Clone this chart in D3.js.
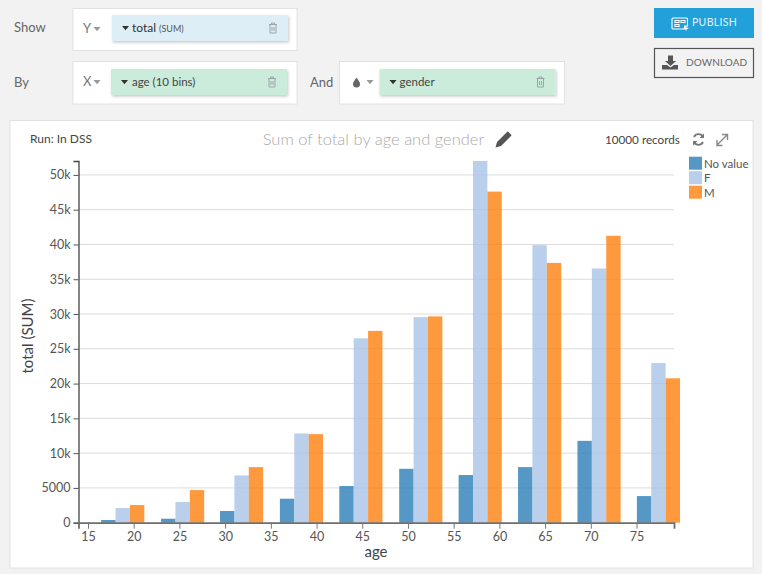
<!DOCTYPE html>
<html>
<head>
<meta charset="utf-8">
<script src="https://cdn.jsdelivr.net/npm/d3@7"></script>
<style>
  html, body { margin: 0; padding: 0; background: #f2f2f2; }
  svg { display: block; font-family: "Lato", sans-serif; }
  .axis text { font-size: 12.5px; fill: #555; font-family: "Lato", sans-serif; }
</style>
</head>
<body>
<div id="chart"></div>
<script>
// values
const binCenters = [18.8, 25.35, 31.8, 38.35, 44.85, 51.4, 57.9, 64.4, 70.9, 77.4];
const genders = ['No value', 'F', 'M'];
const noValue = [390, 570, 1680, 3450, 5270, 7750, 6850, 7990, 11770, 3830];
const female = [2110, 2970, 6800, 12830, 26500, 29550, 52000, 39900, 36550, 22950];
const male = [2540, 4690, 7990, 12730, 27580, 29660, 47600, 37350, 41250, 20760];
const xTicks = [15, 20, 25, 30, 35, 40, 45, 50, 55, 60, 65, 70, 75];
const yTicks = [0, 5000, 10000, 15000, 20000, 25000, 30000, 35000, 40000, 45000, 50000];
const colors = ['#2a7db7', '#a9c3e6', '#ff7f0e'];
const series = [noValue, female, male];

const w = 762, h = 574;
const svg = d3.select('#chart').append('svg').attr('width', w).attr('height', h);

// soft shadow under the field chips
const shadow = svg.append('defs').append('filter').attr('id', 'chipShadow')
  .attr('x', '-5%').attr('y', '-20%').attr('width', '110%').attr('height', '150%');
shadow.append('feDropShadow').attr('dx', 1).attr('dy', 1.5).attr('stdDeviation', 1.5)
  .attr('flood-color', '#000').attr('flood-opacity', 0.22);

// ---- controls above the chart ----
function box(x, y, bw, bh) {
  svg.append('rect').attr('x', x).attr('y', y).attr('width', bw).attr('height', bh)
    .attr('fill', '#fff').attr('stroke', '#e2e2e2').attr('stroke-width', 1);
}
function label(x, y, txt, size, fill, anchor) {
  return svg.append('text').attr('x', x).attr('y', y).attr('font-size', size)
    .attr('fill', fill).attr('text-anchor', anchor || 'start').text(txt);
}
function caret(x, y, size, fill) {
  svg.append('path').attr('d', `M${x},${y}h${size}l${-size / 2},${size * 0.6}z`).attr('fill', fill);
}
function trash(x, y) {
  svg.append('path')
    .attr('d', `M${x + 1},${y + 2}h8M${x + 3.5},${y + 2}v-1.5h3v1.5M${x + 2},${y + 2}v8.5h6v-8.5M${x + 4},${y + 4.5}v4M${x + 6},${y + 4.5}v4`)
    .attr('fill', 'none').attr('stroke', '#9aa5a8').attr('stroke-width', 1);
}
function chip(x, y, cw, fill) {
  svg.append('rect').attr('x', x).attr('y', y).attr('width', cw).attr('height', 26)
    .attr('fill', fill).attr('filter', 'url(#chipShadow)');
  caret(x + 10, y + 11, 7, '#333');
  trash(x + cw - 20, y + 7.5);
}

label(14, 32, 'Show', 13, '#666');
label(14, 87, 'By', 13, '#666');
label(310, 87, 'And', 13, '#666');

box(73, 8.5, 224, 42);
label(83, 33, 'Y', 13, '#777');
caret(93.5, 27, 7, '#999');
chip(112, 15, 176, '#deeef6');
const totalText = label(132, 32, 'total', 12, '#333');
totalText.append('tspan').attr('dx', 3).attr('font-size', 9).attr('fill', '#555').text('(SUM)');

box(73, 61.5, 224, 42.5);
label(83, 86, 'X', 13, '#777');
caret(93.5, 80, 7, '#999');
chip(111, 69, 176, '#cbebdb');
label(132, 86, 'age (10 bins)', 11.5, '#444');

box(339.5, 61.5, 225, 42.5);
svg.append('path').attr('d', 'M356.5,77.5c-2,3 -3.5,4.5 -3.5,6.5a3.5,3.5 0 0 0 7,0c0,-2 -1.5,-3.5 -3.5,-6.5z').attr('fill', '#666');
caret(366.5, 80, 7, '#999');
chip(379.5, 69, 176, '#cbebdb');
label(399.5, 86, 'gender', 11.5, '#444');

svg.append('rect').attr('x', 654).attr('y', 8).attr('width', 100).attr('height', 30).attr('fill', '#22a0da');
svg.append('path')
  .attr('d', 'M673,18h13.5a1,1 0 0 1 1,1v7h-3v3h-11.5a1,1 0 0 1 -1,-1v-9a1,1 0 0 1 1,-1zM675,20.5v2h4v-2zM681,20.5v2h4v-2zM675,24.5v2h4v-2z')
  .attr('fill', 'none').attr('stroke', '#fff').attr('stroke-width', 1.1);
svg.append('path').attr('d', 'M686,26v4.5M683.8,28.3h4.5').attr('stroke', '#fff').attr('stroke-width', 1.2);
label(692, 26, 'PUBLISH', 10.5, '#e4f3fb').attr('letter-spacing', 0.3);

svg.append('rect').attr('x', 654.5).attr('y', 48.5).attr('width', 99).attr('height', 29)
  .attr('fill', 'none').attr('stroke', '#555').attr('stroke-width', 1.2);
svg.append('path').attr('d', 'M668,55.5h5v5.5h3l-5.5,5 -5.5,-5h3zM662,65h5l3.5,2.5 3.5,-2.5h4v4.5h-16z').attr('fill', '#555');
label(686, 66, 'DOWNLOAD', 10, '#666').attr('letter-spacing', 0.1);

// ---- chart panel ----
svg.append('rect').attr('x', 10).attr('y', 120.5).attr('width', 743).attr('height', 447.5)
  .attr('fill', '#fff').attr('stroke', '#e2e2e2');

label(30, 143, 'Run: In DSS', 12, '#444');
label(373.5, 145, 'Sum of total by age and gender', 16.5, '#aaa', 'middle').attr('font-weight', 300);
svg.append('path').attr('d', 'M495.5,147.5l1.5,-5.5 10,-10 a1,1 0 0 1 1.5,0l2.5,2.5a1,1 0 0 1 0,1.5l-10,10z').attr('fill', '#555');
label(605, 144, '10000 records', 11.7, '#444');

// refresh and expand icons
svg.append('path').attr('d', 'M703,137a5,5 0 0 0 -9,0M694,142a5,5 0 0 0 9,0')
  .attr('fill', 'none').attr('stroke', '#777').attr('stroke-width', 1.8);
svg.append('path').attr('d', 'M704,133.5v4.5h-4.5zM693,145.5v-4.5h4.5z').attr('fill', '#777');
svg.append('path').attr('d', 'M717,145l10,-10M722,134.5h5.5v5.5M717,140v5.5h5.5')
  .attr('fill', 'none').attr('stroke', '#888').attr('stroke-width', 1.4);

// ---- plot ----
const x = d3.scaleLinear().domain([13.96, 79.1]).range([78.5, 674]);
const y = d3.scaleLinear().domain([0, 52000]).range([522.7, 161]);
const groupWidth = 4.72; // in years
const inner = d3.scaleBand().domain(genders).range([0, groupWidth]);

svg.append('g').selectAll('line').data(yTicks.slice(1)).enter().append('line')
  .attr('x1', 78.5).attr('x2', 674)
  .attr('y1', d => y(d)).attr('y2', d => y(d))
  .attr('stroke', '#dcdcdc').attr('stroke-width', 1);

series.forEach((vals, s) => {
  svg.append('g').selectAll('rect').data(vals).enter().append('rect')
    .attr('x', (d, i) => x(binCenters[i] - groupWidth / 2 + inner(genders[s])))
    .attr('width', x(inner.bandwidth()) - x(0))
    .attr('y', d => y(d))
    .attr('height', d => y(0) - y(d))
    .attr('fill', colors[s])
    .attr('fill-opacity', 0.8);
});

const fmt = d => d >= 10000 ? (d / 1000) + 'k' : String(d);

const yAxis = d3.axisLeft(y).tickValues(yTicks).tickFormat(fmt).tickSize(5).tickPadding(3);
const yG = svg.append('g').attr('class', 'axis').attr('transform', 'translate(78.5,0)').call(yAxis);
yG.selectAll('.tick line').attr('stroke', '#555');
yG.select('.domain').attr('stroke', '#444').attr('stroke-width', 1.3);

const xAxis = d3.axisBottom(x).tickValues(xTicks).tickSize(6).tickPadding(3).tickSizeOuter(6);
const xG = svg.append('g').attr('class', 'axis').attr('transform', 'translate(0,522.7)').call(xAxis);
xG.selectAll('.tick line').attr('stroke', '#777');
xG.select('.domain').attr('stroke', '#6e6e6e').attr('stroke-width', 1.8);

label(376, 557, 'age', 15, '#444', 'middle');
svg.append('text').attr('transform', 'translate(33,336) rotate(-90)').attr('text-anchor', 'middle')
  .attr('font-size', 15).attr('fill', '#444').text('total (SUM)');

// ---- legend ----
const legend = svg.append('g').selectAll('g').data(genders).enter().append('g')
  .attr('transform', (d, i) => `translate(689,${156.7 + i * 14.5})`);
legend.append('rect').attr('width', 13).attr('height', 13)
  .attr('fill', (d, i) => colors[i]).attr('fill-opacity', 0.8);
legend.append('text').attr('x', 15).attr('y', 11).attr('font-size', 11.5).attr('fill', '#555').text(d => d);
</script>
</body>
</html>
